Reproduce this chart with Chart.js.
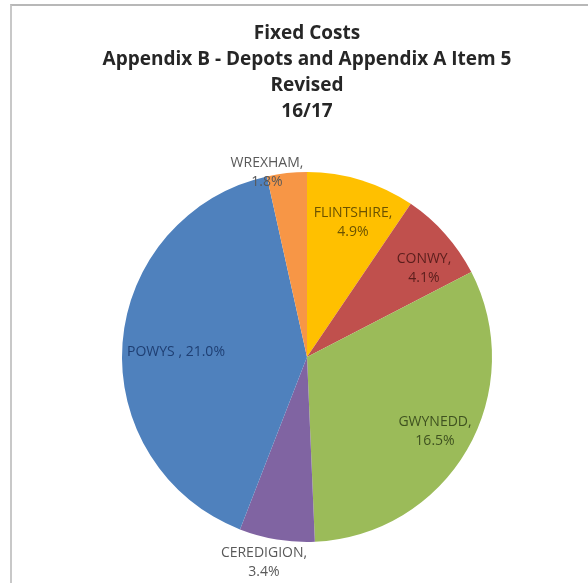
<!DOCTYPE html>
<html>
<head>
<meta charset="utf-8">
<script src="https://cdn.jsdelivr.net/npm/chart.js@4/dist/chart.umd.min.js"></script>
<style>
  html, body { margin: 0; padding: 0; background: #fff; }
  #wrap { position: relative; width: 588px; height: 583px; }
  #frame { position: absolute; left: 10px; top: 4px; right: -4px; bottom: -4px;
           border-top: 2px solid #b8b8b8; border-left: 2px solid #c8c8c8; }
  canvas { position: absolute; left: 0; top: 0; }
</style>
</head>
<body>
<div id="wrap">
  <div id="frame"></div>
  <canvas id="pie" width="588" height="583"></canvas>
</div>
<script>
const titleLines = ['Fixed Costs', 'Appendix B - Depots and Appendix A Item 5', 'Revised', '16/17'];
const regions = ['FLINTSHIRE', 'CONWY', 'GWYNEDD', 'CEREDIGION', 'POWYS ', 'WREXHAM'];
const shares = [4.9, 4.1, 16.5, 3.4, 21.0, 1.8];
const sliceColors = ['#FFC000', '#C0504D', '#9BBB59', '#8064A2', '#4F81BD', '#F79646'];
const labelColors = ['#6b5200', '#5a1e1c', '#3f5220', '#595959', '#1f3f73', '#595959'];

// where each data label sits (x, y of first line), two lines unless noted
const labelSpots = [
  { x: 353, y: 213 }, { x: 424, y: 259 }, { x: 435, y: 422 },
  { x: 264, y: 553 }, { x: 176, y: 352, oneLine: true }, { x: 267, y: 163 }
];

const titlePlugin = {
  id: 'titleText',
  afterDraw(chart) {
    const c = chart.ctx;
    c.save();
    c.fillStyle = '#262626';
    c.font = 'bold 19px "Open Sans"';
    c.textAlign = 'center';
    c.textBaseline = 'middle';
    titleLines.forEach((t, i) => c.fillText(t, 307, 34 + i * 26));
    c.restore();
  }
};

const labelPlugin = {
  id: 'sliceLabels',
  afterDatasetsDraw(chart) {
    const c = chart.ctx;
    c.save();
    c.font = '14px "Open Sans"';
    c.textAlign = 'center';
    c.textBaseline = 'middle';
    regions.forEach((name, i) => {
      const p = labelSpots[i];
      const pct = shares[i].toFixed(1) + '%';
      c.fillStyle = labelColors[i];
      if (p.oneLine) {
        c.fillText(name + ', ' + pct, p.x, p.y);
      } else {
        c.fillText(name + ',', p.x, p.y);
        c.fillText(pct, p.x, p.y + 19);
      }
    });
    c.restore();
  }
};

new Chart(document.getElementById('pie'), {
  type: 'pie',
  data: {
    labels: regions,
    datasets: [{
      data: shares,
      backgroundColor: sliceColors,
      borderWidth: 0,
      hoverOffset: 0
    }]
  },
  options: {
    responsive: false,
    animation: false,
    layout: { padding: { left: 122, right: 96, top: 172, bottom: 41 } },
    plugins: {
      legend: { display: false },
      title: { display: false },
      tooltip: { enabled: false }
    }
  },
  plugins: [titlePlugin, labelPlugin]
});
</script>
</body>
</html>
